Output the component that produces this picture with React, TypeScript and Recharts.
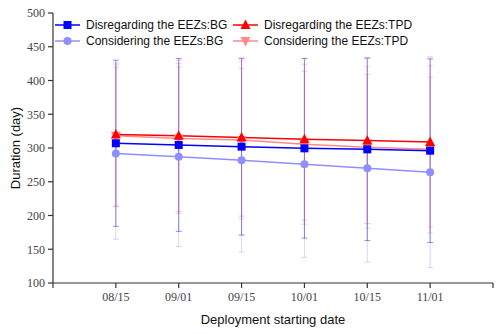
import React from "react";
import {
  ComposedChart,
  Line,
  XAxis,
  YAxis,
  ErrorBar,
  Legend,
} from "recharts";

const DATES = ["08/15", "09/01", "09/15", "10/01", "10/15", "11/01"];

// means
const DIS_BG = [307, 304.5, 302, 299.5, 298, 296];
const DIS_TPD = [320, 318, 315.5, 313, 311, 309];
const CON_BG = [292, 287, 282, 276, 270, 264];
const CON_TPD = [318, 314, 312, 305.5, 301, 298];

// standard deviations (error bar half-lengths)
const DIS_BG_ERR = [123, 128, 131, 133, 135, 136];
const DIS_TPD_ERR = [106, 112, 116.5, 120, 123, 126];
const CON_BG_ERR = [127, 133, 136, 138, 139, 141];
const CON_TPD_ERR = [105, 111, 117, 118.5, 120, 124];

const Y_TICKS = [100, 150, 200, 250, 300, 350, 400, 450, 500];
const X_TICKS = [0, 1, 2, 3, 4, 5, 6, 7];

const COLORS = {
  disBg: "#0000FF",
  disTpd: "#FF0000",
  conBg: "#8F8FFF",
  conTpd: "#FF8A8A",
};

const data = DATES.map((d, i) => ({
  x: i + 1,
  label: d,
  disBg: DIS_BG[i],
  disTpd: DIS_TPD[i],
  conBg: CON_BG[i],
  conTpd: CON_TPD[i],
  disBgErr: DIS_BG_ERR[i],
  disTpdErr: DIS_TPD_ERR[i],
  conBgErr: CON_BG_ERR[i],
  conTpdErr: CON_TPD_ERR[i],
}));

const SERIF = "'Liberation Serif', 'Times New Roman', serif";
const SANS = "'Liberation Sans', Arial, sans-serif";

const Square = ({ cx, cy, color }: any) => (
  <rect x={cx - 4} y={cy - 4} width={8} height={8} fill={color} />
);
const TriUp = ({ cx, cy, color }: any) => (
  <polygon points={`${cx},${cy - 5.5} ${cx - 5},${cy + 4} ${cx + 5},${cy + 4}`} fill={color} />
);
const Circle = ({ cx, cy, color }: any) => <circle cx={cx} cy={cy} r={4} fill={color} />;
const TriDown = ({ cx, cy, color }: any) => (
  <polygon points={`${cx},${cy + 5.5} ${cx - 5},${cy - 4} ${cx + 5},${cy - 4}`} fill={color} />
);

const LEGEND_ITEMS = [
  { label: "Disregarding the EEZs:BG", color: COLORS.disBg, Mark: Square, x: 55, y: 25 },
  { label: "Disregarding the EEZs:TPD", color: COLORS.disTpd, Mark: TriUp, x: 233, y: 25 },
  { label: "Considering the EEZs:BG", color: COLORS.conBg, Mark: Circle, x: 55, y: 41 },
  { label: "Considering the EEZs:TPD", color: COLORS.conTpd, Mark: TriDown, x: 233, y: 41 },
];

const LegendContent = () => (
  <svg width={500} height={60} style={{ display: "block" }}>
    {LEGEND_ITEMS.map((it) => (
      <g key={it.label}>
        <line x1={it.x} y1={it.y} x2={it.x + 25} y2={it.y} stroke={it.color} strokeWidth={1.5} />
        <it.Mark cx={it.x + 12.5} cy={it.y} color={it.color} />
        <text
          x={it.x + 31}
          y={it.y + 4}
          fontSize={12}
          fontFamily={SANS}
          fill="#111"
        >
          {it.label}
        </text>
      </g>
    ))}
  </svg>
);

export default function App() {
  return (
    <div style={{ position: "absolute", left: 0, top: 0, background: "#fff" }}>
      <ComposedChart
        width={500}
        height={334}
        data={data}
        margin={{ top: 13, right: 7, left: 0, bottom: 0 }}
      >
        <XAxis
          dataKey="x"
          type="number"
          domain={[0, 7]}
          ticks={X_TICKS}
          interval={0}
          tickFormatter={(v: number) => (v >= 1 && v <= 6 ? DATES[v - 1] : "")}
          tick={{ fill: "#444", fontSize: 12, fontFamily: SERIF }}
          tickSize={5}
          tickMargin={4}
          stroke="#333"
          strokeWidth={1.2}
          height={51}
          label={{
            value: "Deployment starting date",
            position: "insideBottom",
            offset: 10,
            fill: "#111",
            fontSize: 13,
            fontFamily: SANS,
          }}
        />
        <XAxis
          xAxisId="top"
          orientation="top"
          type="number"
          dataKey="x"
          domain={[0, 7]}
          tick={false}
          tickLine={false}
          height={0}
          stroke="#333"
          strokeWidth={1.2}
        />
        <YAxis
          type="number"
          domain={[100, 500]}
          ticks={Y_TICKS}
          interval={0}
          tick={{ fill: "#444", fontSize: 12, fontFamily: SERIF }}
          tickSize={5}
          tickMargin={3}
          stroke="#333"
          strokeWidth={1.2}
          width={53}
          label={{
            value: "Duration (day)",
            angle: -90,
            position: "insideLeft",
            offset: 15,
            style: { textAnchor: "middle" },
            fill: "#111",
            fontSize: 13,
            fontFamily: SANS,
          }}
        />
        <YAxis
          yAxisId="right"
          orientation="right"
          type="number"
          domain={[100, 500]}
          tick={false}
          tickLine={false}
          width={0}
          stroke="#333"
          strokeWidth={1.2}
        />
        <Legend
          layout="horizontal"
          verticalAlign="middle"
          align="center"
          content={() => <LegendContent />}
          wrapperStyle={{ position: "absolute", left: 0, top: 0, width: 500, height: 60, pointerEvents: "none" }}
        />
        <Line
          dataKey="conBg"
          stroke={COLORS.conBg}
          strokeWidth={1.5}
          isAnimationActive={false}
          dot={(p: any) => <Circle key={`cb${p.index}`} cx={p.cx} cy={p.cy} color={COLORS.conBg} />}
        >
          <ErrorBar dataKey="conBgErr" width={3} stroke="rgba(120,120,230,0.3)" strokeWidth={1} direction="y" isAnimationActive={false} />
        </Line>
        <Line
          dataKey="conTpd"
          stroke={COLORS.conTpd}
          strokeWidth={1.5}
          isAnimationActive={false}
          dot={(p: any) => <TriDown key={`ct${p.index}`} cx={p.cx} cy={p.cy} color={COLORS.conTpd} />}
        >
          <ErrorBar dataKey="conTpdErr" width={3} stroke="rgba(240,110,110,0.3)" strokeWidth={1} direction="y" isAnimationActive={false} />
        </Line>
        <Line
          dataKey="disBg"
          stroke={COLORS.disBg}
          strokeWidth={1.5}
          isAnimationActive={false}
          dot={(p: any) => <Square key={`db${p.index}`} cx={p.cx} cy={p.cy} color={COLORS.disBg} />}
        >
          <ErrorBar dataKey="disBgErr" width={3} stroke="rgba(40,40,230,0.5)" strokeWidth={1} direction="y" isAnimationActive={false} />
        </Line>
        <Line
          dataKey="disTpd"
          stroke={COLORS.disTpd}
          strokeWidth={1.5}
          isAnimationActive={false}
          dot={(p: any) => <TriUp key={`dt${p.index}`} cx={p.cx} cy={p.cy} color={COLORS.disTpd} />}
        >
          <ErrorBar dataKey="disTpdErr" width={3} stroke="rgba(220,90,160,0.35)" strokeWidth={1} direction="y" isAnimationActive={false} />
        </Line>
      </ComposedChart>
    </div>
  );
}
